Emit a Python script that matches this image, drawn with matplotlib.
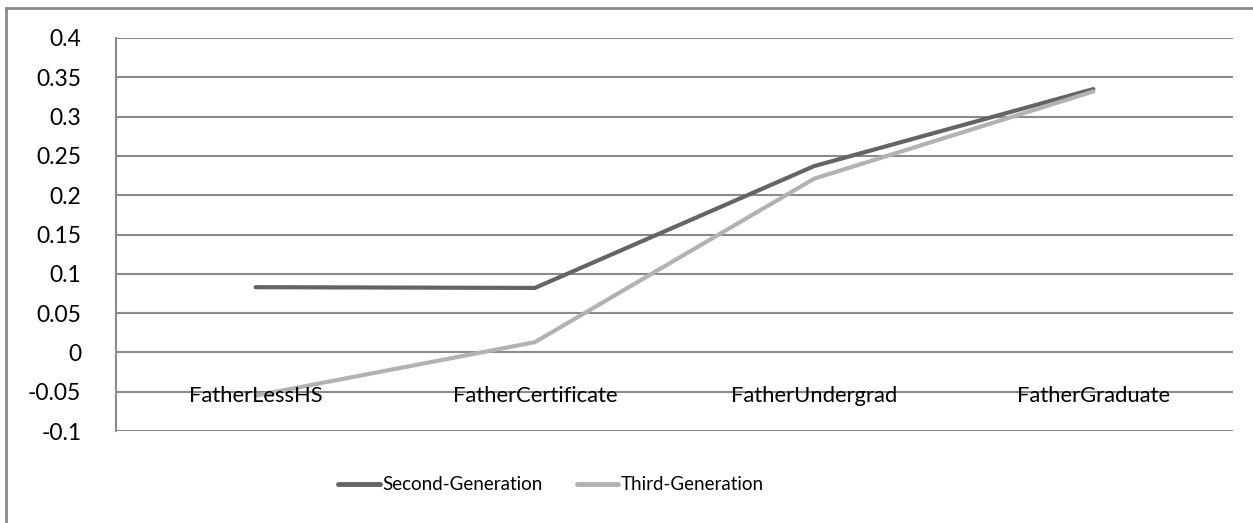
import matplotlib.pyplot as plt
from matplotlib.lines import Line2D

categories = ['FatherLessHS', 'FatherCertificate', 'FatherUndergrad', 'FatherGraduate']
second_gen = [0.083, 0.082, 0.237, 0.335]
third_gen = [-0.055, 0.013, 0.221, 0.332]

plt.rcParams['font.family'] = ['Lato', 'DejaVu Sans']

W, H = 1253, 523
fig = plt.figure(figsize=(W / 100, H / 100), dpi=100)
ax = fig.add_axes([116 / W, 1 - 431 / H, (1233 - 116) / W, (431 - 38) / H])

x = range(len(categories))
ax.plot(x, second_gen, color='#646464', lw=3.0, solid_capstyle='round', label='Second-Generation', zorder=3)
ax.plot(x, third_gen, color='#b2b2b2', lw=3.0, solid_capstyle='round', label='Third-Generation', zorder=3)

ax.set_xlim(-0.5, len(categories) - 0.5)
ax.set_ylim(-0.1, 0.4)
ticks = [-0.1, -0.05, 0, 0.05, 0.1, 0.15, 0.2, 0.25, 0.3, 0.35, 0.4]
ax.set_yticks(ticks)
ax.set_yticklabels(['%g' % t for t in ticks], fontsize=16.5)
ax.tick_params(axis='y', length=0, pad=25)
ax.set_xticks([])
ax.yaxis.grid(True, color='#8a8a8a', lw=1.5)
ax.set_axisbelow(True)
for s in ['top', 'right', 'bottom']:
    ax.spines[s].set_visible(False)
ax.spines['left'].set_color('#8a8a8a')
ax.spines['left'].set_linewidth(1.5)

# category labels sit just under the zero line, like Excel
for i, c in enumerate(categories):
    ax.text(i, -0.056, c, ha='center', va='center', fontsize=15.8, zorder=4)

leg = fig.legend(loc='center', bbox_to_anchor=(551 / W, 1 - 485 / H), ncol=2, frameon=False,
                 fontsize=13.5, handlelength=2.2, handletextpad=0.15, columnspacing=1.8)
for h in leg.get_lines():
    h.set_linewidth(3.5)

# outer chart border
fig.add_artist(Line2D([5.5 / W, 5.5 / W], [0, 1 - 8 / H], color='#8a8a8a', lw=2))
fig.add_artist(Line2D([5.5 / W, 1], [1 - 8 / H, 1 - 8 / H], color='#8a8a8a', lw=2))

fig.savefig('out.png', dpi=100)
